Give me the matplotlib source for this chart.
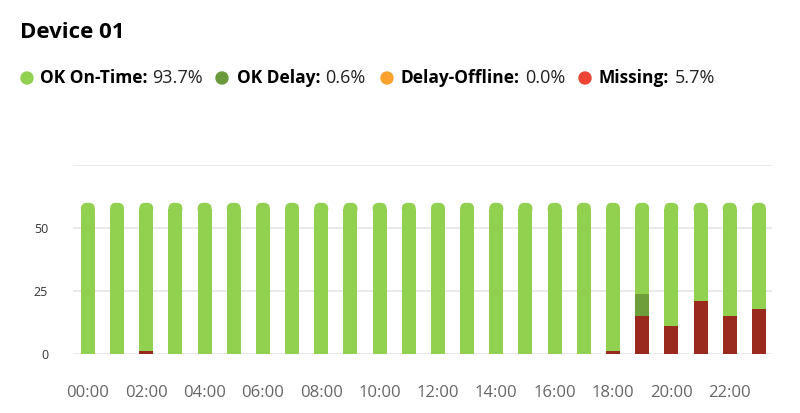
import matplotlib.pyplot as plt, numpy as np, matplotlib
from matplotlib.patches import FancyBboxPatch
matplotlib.rc('font', **{'size': 10, 'family': 'Open Sans'})

# data
hours = ['%02d:00' % h for h in range(24)]
missing = [0, 0, 1, 0, 0, 0, 0, 0, 0, 0, 0, 0, 0, 0, 0, 0, 0, 0, 1, 15, 11, 21, 15, 18]
delay = [0] * 19 + [9] + [0] * 4
total = [60] * 24
legend_names = ['OK On-Time:', 'OK Delay:', 'Delay-Offline:', 'Missing:']
legend_vals = ['93.7%', '0.6%', '0.0%', '5.7%']
yticks = [0, 25, 50, 75]

pal = {'ok': '#92d050', 'delay': '#6e9e3b', 'off': '#f9a12c', 'miss': '#9b2a1e', 'missdot': '#ee4433'}
leg_cols = [pal['ok'], '#6a9a3c', pal['off'], pal['missdot']]

W, H = 800, 413
fig = plt.figure(figsize=(W / 100, H / 100), dpi=100)
ax = fig.add_axes([73 / W, 59 / H, 699 / W, 189 / H])

x = np.arange(len(hours))
miss = np.array(missing)
dly = np.array(delay)
ok = np.array(total) - miss - dly
bw = 0.48

ax.set_xlim(-0.51, 23.45)
ax.set_ylim(0, 75)

# rounded top: radius in data units for x and y
rx = 6 / 29.17
ry = 6 / 2.52

ax.bar(x, miss, bw, color=pal['miss'], zorder=3)
ax.bar(x, dly, bw, bottom=miss, color=pal['delay'], zorder=3)
ax.bar(x, ok - ry, bw, bottom=miss + dly, color=pal['ok'], zorder=3)
for i in x:
	top = total[i]
	p = FancyBboxPatch((i - bw / 2, top - 2 * ry), bw, 2 * ry,
					   boxstyle='round,pad=0,rounding_size=%f' % rx,
					   mutation_aspect=ry / rx, fc=pal['ok'], ec='none', zorder=3)
	ax.add_patch(p)

ax.set_yticks(yticks)
ax.set_yticklabels(['0', '25', '50', ''])
ax.grid(axis='y', color='#e6e6e6', lw=1.2, zorder=0)
for s in ax.spines.values():
	s.set_visible(False)
ax.tick_params(axis='y', length=0, pad=18, labelsize=9, labelcolor='#333333')
ax.set_xticks(x[::2])
ax.set_xticklabels(hours[::2])
ax.tick_params(axis='x', length=0, pad=22, labelsize=12, labelcolor='#666666')

# title and legend
fig.text(20 / W, 1 - 33 / H, 'Device 01', fontsize=16, fontweight='bold', color='black', va='center')
dots_x = [27, 222, 387, 585]
lab_x = [40, 237, 401, 599]
yl = 1 - 78 / H
fig.canvas.draw()
r = fig.canvas.get_renderer()
for k in range(4):
	fig.patches.append(plt.Circle((dots_x[k], H - 78), 6, transform=None, color=leg_cols[k]))
	t = fig.text(lab_x[k] / W, yl, legend_names[k], fontsize=12.5, fontweight='bold', color='black', va='center')
	bb = t.get_window_extent(renderer=r)
	fig.text((bb.x1 + 5) / W, yl, legend_vals[k], fontsize=13, color='#222222', va='center')

fig.savefig('out.png', dpi=100)
